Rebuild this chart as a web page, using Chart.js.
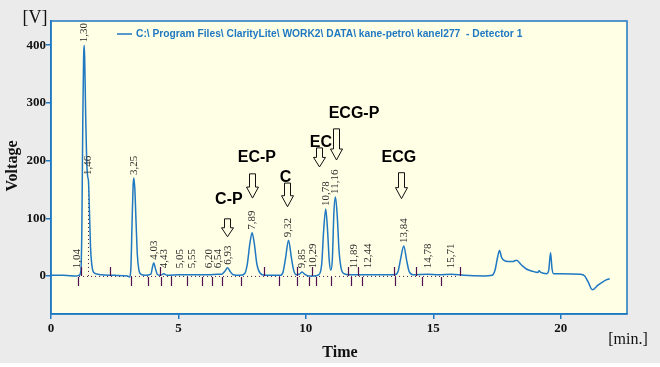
<!DOCTYPE html>
<html>
<head>
<meta charset="UTF-8" />
<title>kanel277 - Detector 1</title>
<script src="https://cdn.jsdelivr.net/npm/chart.js"></script>
<style>
  html, body { margin: 0; padding: 0; background: #fff; }
  canvas { display: block; }
</style>
</head>
<body>
<canvas id="chrom" width="660" height="367"></canvas>
<script>
// trace: time [min.] and signal [V]
const times = [0, 0.5, 1.0, 1.1, 1.17, 1.21, 1.25, 1.28, 1.30, 1.32, 1.36, 1.40, 1.44, 1.47, 1.51, 1.55, 1.6, 1.65, 1.75, 2.0, 2.5,
  3.0, 3.08, 3.13, 3.18, 3.22, 3.25, 3.29, 3.34, 3.39, 3.45, 3.52, 3.7, 3.92, 3.98, 4.03, 4.09, 4.17, 4.3, 4.43, 4.55,
  5.05, 5.55, 6.2, 6.54, 6.7, 6.82, 6.93, 7.04, 7.15, 7.4, 7.6, 7.7, 7.8, 7.89, 7.98, 8.08, 8.2, 8.4,
  9.0, 9.1, 9.2, 9.32, 9.43, 9.52, 9.62, 9.75, 9.85, 9.95, 10.1, 10.3, 10.5, 10.62, 10.7, 10.78, 10.85, 10.92, 10.98,
  11.04, 11.1, 11.16, 11.23, 11.3, 11.38, 11.5, 11.7, 12.5, 13.5, 13.62, 13.72, 13.84, 13.95, 14.05, 14.2, 14.78,
  15.2, 15.71, 16.2, 17.0, 17.3, 17.42, 17.52, 17.6, 17.68, 17.78, 17.93, 18.1, 18.26, 18.46, 18.65, 18.9,
  19.1, 19.15, 19.22, 19.45, 19.53, 19.6, 19.66, 19.72, 20.0, 20.75, 20.94, 21.07, 21.24, 21.46, 21.73, 21.92];
const signal = [1, 1, 0, 1, 8, 80, 280, 380, 400, 380, 280, 200, 172, 165, 110, 50, 20, 8, 4, 2, 1,
  0, -2, 10, 90, 155, 170, 150, 90, 35, 10, 3, 1, 3, 15, 23, 14, 3, 1, 4, 1,
  2, 2, 2, 3, 3, 8, 14, 7, 2, 1, 4, 20, 55, 75, 55, 20, 5, 1,
  1, 6, 30, 62, 32, 10, 2, 3, 7, 3, 0, 0, 2, 20, 80, 116, 80, 25, 10,
  30, 110, 137, 105, 45, 14, 4, 2, 2, 2, 8, 30, 52, 28, 8, 2, 3,
  2, 3, 1, 0, 1, 10, 32, 44, 32, 27, 25, 25, 27, 19, 12, 8,
  6, 9, 6, 4, 10, 40, 12, 4, 4, 3, 0, -10, -24, -16, -8, -5];

// integrated peaks: retention time, printed label, apex height
const peakTimes = [1.04, 1.30, 1.46, 3.25, 4.03, 4.43, 5.05, 5.55, 6.20, 6.54, 6.93, 7.89, 9.32, 9.85, 10.29, 10.78, 11.16, 11.89, 12.44, 13.84, 14.78, 15.71];
const peakLabels = ['1,04', '1,30', '1,46', '3,25', '4,03', '4,43', '5,05', '5,55', '6,20', '6,54', '6,93', '7,89', '9,32', '9,85', '10,29', '10,78', '11,16', '11,89', '12,44', '13,84', '14,78', '15,71'];
const peakHeights = [2, 400, 170, 170, 23, 4, 2, 2, 2, 3, 14, 75, 62, 7, 1, 116, 137, 2, 2, 52, 3, 3];

// peak start / end markers
const markStart = [1.06, 3.14, 3.80, 4.31, 4.71, 5.33, 5.92, 6.31, 6.71, 7.45, 8.94, 9.65, 10.12, 10.39, 10.98, 11.76, 12.20, 13.49, 14.55, 15.29];
const markEnd = [1.18, 2.31, 4.27, 8.35, 9.65, 10.24, 11.65, 12.04, 13.45, 14.31, 16.04];

// compound annotations: name, arrow time, arrow top/tip, text anchor
const compounds = ['C-P', 'EC-P', 'C', 'EC', 'ECG-P', 'ECG'];
const arrowTimes = [6.89, 7.87, 9.26, 10.51, 11.18, 13.72];
const arrowTops = [99, 177, 161, 222, 255, 179];
const arrowTips = [68, 135, 120, 189, 201, 134];
const textTimes = [6.98, 8.08, 9.20, 10.59, 11.89, 13.65];
const textValues = [132, 205, 170, 232, 281, 206];

const xTicks = [0, 5, 10, 15, 20];
const yTicks = [0, 100, 200, 300, 400];
const legendText = 'C:\\ Program Files\\ ClarityLite\\ WORK2\\ DATA\\ kane-petro\\ kanel277  - Detector 1';

const blue = '#1f78c1';
const marker = '#4e1050';

const decor = {
  id: 'decor',
  beforeDraw(chart) {
    const ctx = chart.ctx, a = chart.chartArea;
    ctx.save();
    ctx.fillStyle = '#ebebeb';
    ctx.fillRect(0, 0, chart.width, 363);
    ctx.fillStyle = '#ffffe6';
    ctx.fillRect(a.left, a.top, a.right - a.left, a.bottom - a.top);
    ctx.restore();
  },
  beforeDatasetsDraw(chart) {
    const ctx = chart.ctx, x = chart.scales.x, y = chart.scales.y;
    const y0 = y.getPixelForValue(0);
    ctx.save();
    ctx.strokeStyle = marker;
    ctx.lineWidth = 1;
    ctx.setLineDash([1, 3]);
    ctx.beginPath();
    ctx.moveTo(x.getPixelForValue(1.1), y0 + 0.5);
    ctx.lineTo(x.getPixelForValue(16.0), y0 + 0.5);
    const xs = Math.round(x.getPixelForValue(1.46)) + 0.5;
    ctx.moveTo(xs, y0);
    ctx.lineTo(xs, y.getPixelForValue(165));
    ctx.stroke();
    ctx.restore();
  },
  afterDatasetsDraw(chart) {
    const ctx = chart.ctx, a = chart.chartArea, x = chart.scales.x, y = chart.scales.y;
    const y0 = y.getPixelForValue(0);
    ctx.save();
    // start/end markers
    ctx.strokeStyle = marker;
    ctx.lineWidth = 1.2;
    ctx.beginPath();
    markStart.forEach(t => {
      const px = Math.round(x.getPixelForValue(t)) + 0.5;
      ctx.moveTo(px, y0 + 1); ctx.lineTo(px, y0 + 10);
    });
    markEnd.forEach(t => {
      const px = Math.round(x.getPixelForValue(t)) + 0.5;
      ctx.moveTo(px, y0 - 9); ctx.lineTo(px, y0);
    });
    ctx.stroke();

    // peak labels
    ctx.fillStyle = '#2a2a2a';
    ctx.font = '11px "Liberation Serif"';
    ctx.textAlign = 'left';
    ctx.textBaseline = 'middle';
    peakTimes.forEach((t, i) => {
      const px = x.getPixelForValue(t);
      const py = y.getPixelForValue(Math.max(peakHeights[i], 8)) - 3;
      ctx.save();
      ctx.translate(px, py);
      ctx.rotate(-Math.PI / 2);
      ctx.fillText(peakLabels[i], 0, 0);
      ctx.restore();
    });

    // compound arrows and names
    ctx.strokeStyle = '#111';
    ctx.lineWidth = 1;
    compounds.forEach((name, i) => {
      const px = Math.round(x.getPixelForValue(arrowTimes[i])) + 0.5;
      const top = y.getPixelForValue(arrowTops[i]);
      const tip = y.getPixelForValue(arrowTips[i]);
      const head = Math.min(11, (tip - top) * 0.5);
      ctx.beginPath();
      ctx.moveTo(px - 3, top);
      ctx.lineTo(px + 3, top);
      ctx.lineTo(px + 3, tip - head);
      ctx.lineTo(px + 6, tip - head);
      ctx.lineTo(px, tip);
      ctx.lineTo(px - 6, tip - head);
      ctx.lineTo(px - 3, tip - head);
      ctx.closePath();
      ctx.stroke();
    });
    ctx.fillStyle = '#000';
    ctx.font = 'bold 16px "Liberation Sans"';
    ctx.textAlign = 'center';
    ctx.textBaseline = 'middle';
    compounds.forEach((name, i) => {
      ctx.fillText(name, x.getPixelForValue(textTimes[i]), y.getPixelForValue(textValues[i]));
    });

    // frame
    ctx.strokeStyle = blue;
    ctx.lineWidth = 1.5;
    ctx.strokeRect(a.left, a.top, a.right - a.left, a.bottom - a.top);

    // legend
    ctx.beginPath();
    ctx.moveTo(117, 34); ctx.lineTo(132, 34);
    ctx.stroke();
    ctx.fillStyle = blue;
    ctx.font = 'bold 10.25px "Liberation Sans"';
    ctx.textAlign = 'left';
    ctx.fillText(legendText, 136, 34);

    // axis captions
    ctx.fillStyle = '#111';
    ctx.textAlign = 'center';
    ctx.font = '18px "Liberation Serif"';
    ctx.fillText('[V]', 35, 18);
    ctx.font = '16px "Liberation Serif"';
    ctx.fillText('[min.]', 628, 340);
    ctx.font = 'bold 16px "Liberation Serif"';
    ctx.fillText('Time', 340, 353);
    ctx.save();
    ctx.translate(13, 166);
    ctx.rotate(-Math.PI / 2);
    ctx.fillText('Voltage', 0, 0);
    ctx.restore();
    ctx.restore();
  }
};

new Chart(document.getElementById('chrom').getContext('2d'), {
  type: 'line',
  data: {
    datasets: [{
      data: times.map((t, i) => ({ x: t, y: signal[i] })),
      borderColor: blue,
      borderWidth: 1.5,
      pointRadius: 0,
      cubicInterpolationMode: 'monotone',
      fill: false
    }]
  },
  options: {
    responsive: false,
    animation: false,
    devicePixelRatio: 1,
    layout: { padding: { left: 0, top: 21, right: 33, bottom: 0 } },
    plugins: { legend: { display: false }, tooltip: { enabled: false } },
    scales: {
      x: {
        type: 'linear',
        min: 0,
        max: 22.6,
        afterBuildTicks: s => { s.ticks = xTicks.map(v => ({ value: v })); },
        afterFit: s => { s.height = 53; },
        grid: { drawOnChartArea: false, tickLength: 5, color: blue, lineWidth: 1.5 },
        border: { color: blue, width: 1.5 },
        ticks: { color: '#111', padding: 2, maxRotation: 0, font: { family: 'Liberation Serif', size: 13, weight: 'bold' } }
      },
      y: {
        min: -66,
        max: 442,
        afterBuildTicks: s => { s.ticks = yTicks.map(v => ({ value: v })); },
        afterFit: s => { s.width = 51; },
        grid: { drawOnChartArea: false, tickLength: 5, color: blue, lineWidth: 1.5 },
        border: { color: blue, width: 1.5 },
        ticks: { color: '#111', padding: 0, font: { family: 'Liberation Serif', size: 13, weight: 'bold' } }
      }
    }
  },
  plugins: [decor]
});
</script>
</body>
</html>
